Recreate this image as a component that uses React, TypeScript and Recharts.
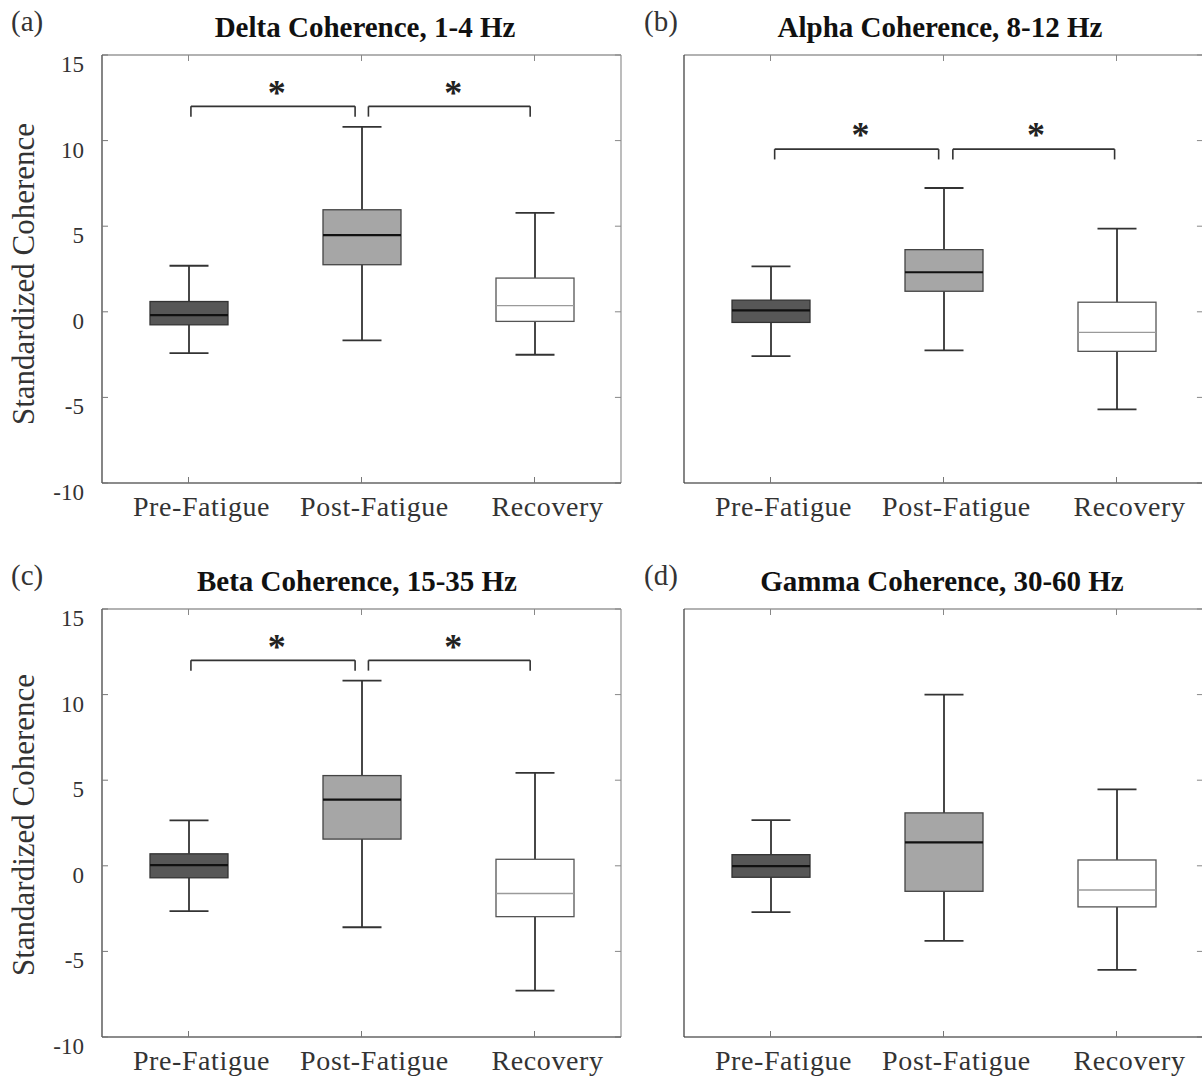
import React from 'react';
import { ComposedChart, Bar, XAxis, YAxis, ReferenceLine, ReferenceDot } from 'recharts';

const categories = ['Pre-Fatigue', 'Post-Fatigue', 'Recovery'];
const categoryX = [1, 2, 3];
const yTicks = [-10, -5, 0, 5, 10, 15];

// five-number summaries per category: [min, q1, median, q3, max]
const deltaStats = [
  [-2.41, -0.76, -0.2, 0.6, 2.69],
  [-1.67, 2.75, 4.48, 5.96, 10.8],
  [-2.51, -0.56, 0.36, 1.97, 5.78],
];
const alphaStats = [
  [-2.59, -0.62, 0.08, 0.68, 2.65],
  [-2.25, 1.2, 2.31, 3.63, 7.23],
  [-5.7, -2.31, -1.2, 0.56, 4.86],
];
const betaStats = [
  [-2.65, -0.7, 0.04, 0.7, 2.65],
  [-3.59, 1.56, 3.87, 5.27, 10.82],
  [-7.29, -2.97, -1.62, 0.38, 5.43],
];
const gammaStats = [
  [-2.71, -0.67, -0.02, 0.65, 2.67],
  [-4.38, -1.49, 1.37, 3.09, 10.0],
  [-6.08, -2.4, -1.41, 0.34, 4.46],
];

// significance brackets: [xStart, xEnd]
const bracketsDelta = [[1.014, 1.963], [2.04, 2.975]];
const bracketsAlpha = [[1.024, 1.972], [2.054, 2.989]];
const bracketsBeta = [[1.014, 1.963], [2.04, 2.975]];
const bracketLevelDelta = [12, 11.4, 13.05]; // [bar, drop end, asterisk]
const bracketLevelAlpha = [9.5, 8.9, 10.6];
const bracketLevelBeta = [12, 11.4, 13.05];
const starXDelta = [1.51, 2.53];
const starXAlpha = [1.52, 2.535];
const starXBeta = [1.51, 2.53];

const X_DOMAIN = [0.5, 3.5];
const Y_DOMAIN = [-10, 15];

const titles = [
  'Delta Coherence, 1-4 Hz',
  'Alpha Coherence, 8-12 Hz',
  'Beta Coherence, 15-35 Hz',
  'Gamma Coherence, 30-60 Hz',
];
const panelLetters = ['(a)', '(b)', '(c)', '(d)'];
const yAxisTitle = 'Standardized Coherence';

const boxFills = ['#575757', '#a6a6a6', '#ffffff'];
const boxStrokes = ['#333333', '#444444', '#555555'];
const medianColors = ['#111111', '#111111', '#9a9a9a'];

const FONT = "'Liberation Serif', 'Times New Roman', serif";
const TEXT = '#333333';

const BoxShape = (props: any) => {
  const { x, y, width, height, payload } = props;
  if (x == null || y == null || !payload) return null;
  const top = Math.min(y, y + height);
  const bottom = Math.max(y, y + height);
  const { min, q1, med, q3, max, idx } = payload;
  const k = (bottom - top) / (max - min);
  const py = (v: number) => bottom - (v - min) * k;
  const cx = x + width / 2;
  const capHalf = width / 4;
  const wStroke = '#333333';
  return (
    <g>
      <line x1={cx} x2={cx} y1={py(max)} y2={py(q3)} stroke={wStroke} strokeWidth={1.8} />
      <line x1={cx} x2={cx} y1={py(q1)} y2={py(min)} stroke={wStroke} strokeWidth={1.8} />
      <line x1={cx - capHalf} x2={cx + capHalf} y1={py(max)} y2={py(max)} stroke={wStroke} strokeWidth={1.8} />
      <line x1={cx - capHalf} x2={cx + capHalf} y1={py(min)} y2={py(min)} stroke={wStroke} strokeWidth={1.8} />
      <rect
        x={x}
        y={py(q3)}
        width={width}
        height={py(q1) - py(q3)}
        fill={boxFills[idx]}
        stroke={boxStrokes[idx]}
        strokeWidth={1.3}
      />
      <line
        x1={x}
        x2={x + width}
        y1={py(med)}
        y2={py(med)}
        stroke={medianColors[idx]}
        strokeWidth={idx === 2 ? 1.4 : 2.2}
      />
    </g>
  );
};

const XTick = (props: any) => {
  const { x, y, payload } = props;
  const i = categoryX.indexOf(payload.value);
  return (
    <text
      x={x + 13}
      y={y + 33}
      textAnchor="middle"
      fontFamily={FONT}
      fontSize={28}
      letterSpacing={0.6}
      fill={TEXT}
    >
      {categories[i]}
    </text>
  );
};

const YTick = (props: any) => {
  const { x, y, payload } = props;
  return (
    <text x={x - 18} y={y + 17} textAnchor="end" fontFamily={FONT} fontSize={23} fill={TEXT}>
      {payload.value}
    </text>
  );
};

const Star = (props: any) => {
  const { cx, cy } = props;
  if (cx == null || cy == null) return null;
  return (
    <text
      x={cx}
      y={cy + 17}
      textAnchor="middle"
      fontFamily={FONT}
      fontWeight="bold"
      fontSize={36}
      fill="#222"
    >
      *
    </text>
  );
};

type PanelProps = {
  left: number;
  top: number;
  yAxisWidth: number;
  width: number;
  rightMargin: number;
  stats: number[][];
  brackets?: number[][];
  level?: number[];
  starX?: number[];
  showYLabels: boolean;
};

function Panel({ left, top, yAxisWidth, width, rightMargin, stats, brackets, level, starX, showYLabels }: PanelProps) {
  const data = stats.map((s, i) => ({
    x: categoryX[i],
    idx: i,
    min: s[0],
    q1: s[1],
    med: s[2],
    q3: s[3],
    max: s[4],
  }));
  const lineStyle = { stroke: '#333333', strokeWidth: 1.6 };
  const bracketEls: React.ReactNode[] = [];
  if (brackets && level) {
    brackets.forEach((b, i) => {
      bracketEls.push(
        <ReferenceLine
          key={`h${i}`}
          segment={[{ x: b[0], y: level[0] }, { x: b[1], y: level[0] }]}
          {...lineStyle}
          ifOverflow="visible"
        />,
        <ReferenceLine
          key={`l${i}`}
          segment={[{ x: b[0], y: level[0] }, { x: b[0], y: level[1] }]}
          {...lineStyle}
          ifOverflow="visible"
        />,
        <ReferenceLine
          key={`r${i}`}
          segment={[{ x: b[1], y: level[0] }, { x: b[1], y: level[1] }]}
          {...lineStyle}
          ifOverflow="visible"
        />
      );
    });
  }
  const starEls =
    starX && level
      ? starX.map((sx, i) => (
          <ReferenceDot key={`s${i}`} x={sx} y={level[2]} r={0} shape={(p: any) => <Star {...p} />} ifOverflow="visible" />
        ))
      : null;

  // frame: top and right borders with inward ticks
  const frameEls: React.ReactNode[] = [
    <ReferenceLine key="topb" y={Y_DOMAIN[1]} stroke="#999" strokeWidth={1.3} ifOverflow="visible" />,
    <ReferenceLine key="rightb" x={X_DOMAIN[1]} stroke="#999" strokeWidth={1.3} ifOverflow="visible" />,
  ];
  categoryX.forEach((cx, i) => {
    frameEls.push(
      <ReferenceLine
        key={`tt${i}`}
        segment={[{ x: cx, y: Y_DOMAIN[1] }, { x: cx, y: Y_DOMAIN[1] - 0.35 }]}
        stroke="#888"
        strokeWidth={1}
        ifOverflow="visible"
      />
    );
  });
  yTicks.forEach((yv, i) => {
    frameEls.push(
      <ReferenceLine
        key={`rt${i}`}
        segment={[{ x: X_DOMAIN[1], y: yv }, { x: X_DOMAIN[1] - 0.035, y: yv }]}
        stroke="#888"
        strokeWidth={1}
        ifOverflow="visible"
      />
    );
  });

  return (
    <div style={{ position: 'absolute', left, top }}>
      <ComposedChart
        width={width}
        height={545}
        data={data}
        margin={{ top: 55, right: rightMargin, bottom: 0, left: 0 }}
      >
        <XAxis
          dataKey="x"
          type="number"
          domain={X_DOMAIN}
          ticks={categoryX}
          allowDataOverflow
          height={62}
          tickSize={-6}
          tickMargin={6}
          tickLine={{ stroke: '#777' }}
          axisLine={{ stroke: '#666', strokeWidth: 1.3 }}
          tick={(p: any) => <XTick {...p} />}
          interval={0}
        />
        <YAxis
          type="number"
          domain={Y_DOMAIN}
          ticks={yTicks}
          allowDataOverflow
          width={yAxisWidth}
          tickSize={-6}
          tickMargin={6}
          tickLine={{ stroke: '#777' }}
          axisLine={{ stroke: '#444', strokeWidth: 1.3 }}
          tick={showYLabels ? (p: any) => <YTick {...p} /> : false}
          interval={0}
        />
        {frameEls}
        <Bar
          dataKey={(d: any) => [d.min, d.max]}
          barSize={78}
          isAnimationActive={false}
          shape={(p: any) => <BoxShape {...p} />}
        />
        {bracketEls}
        {starEls}
      </ComposedChart>
    </div>
  );
}

export default function App() {
  const titleProps = { textAnchor: 'middle' as const, fontFamily: FONT, fontSize: 29, fontWeight: 'bold', fill: '#111' };
  const letterProps = { fontFamily: FONT, fontSize: 29, fill: TEXT };
  return (
    <div
      style={{
        position: 'absolute',
        left: 0,
        top: 0,
        width: 1202,
        height: 1086,
        overflow: 'hidden',
        background: '#ffffff',
      }}
    >
      <svg width={1202} height={1086} style={{ position: 'absolute', left: 0, top: 0 }}>
        <text x={11} y={31} {...letterProps}>{panelLetters[0]}</text>
        <text x={644} y={31} {...letterProps}>{panelLetters[1]}</text>
        <text x={11} y={585} {...letterProps}>{panelLetters[2]}</text>
        <text x={644} y={585} {...letterProps}>{panelLetters[3]}</text>
        <text x={365} y={37} {...titleProps}>{titles[0]}</text>
        <text x={940} y={37} {...titleProps}>{titles[1]}</text>
        <text x={357} y={591} {...titleProps}>{titles[2]}</text>
        <text x={942} y={591} {...titleProps}>{titles[3]}</text>
        <text transform="translate(34,274) rotate(-90)" textAnchor="middle" fontFamily={FONT} fontSize={31} fill={TEXT}>{yAxisTitle}</text>
        <text transform="translate(34,825) rotate(-90)" textAnchor="middle" fontFamily={FONT} fontSize={31} fill={TEXT}>{yAxisTitle}</text>
      </svg>
      <Panel left={0} top={0} yAxisWidth={102} width={640} rightMargin={19} stats={deltaStats} brackets={bracketsDelta} level={bracketLevelDelta} starX={starXDelta} showYLabels />
      <Panel left={600} top={0} yAxisWidth={84} width={620} rightMargin={17} stats={alphaStats} brackets={bracketsAlpha} level={bracketLevelAlpha} starX={starXAlpha} showYLabels={false} />
      <Panel left={0} top={554} yAxisWidth={102} width={640} rightMargin={19} stats={betaStats} brackets={bracketsBeta} level={bracketLevelBeta} starX={starXBeta} showYLabels />
      <Panel left={600} top={554} yAxisWidth={84} width={620} rightMargin={17} stats={gammaStats} showYLabels={false} />
    </div>
  );
}
